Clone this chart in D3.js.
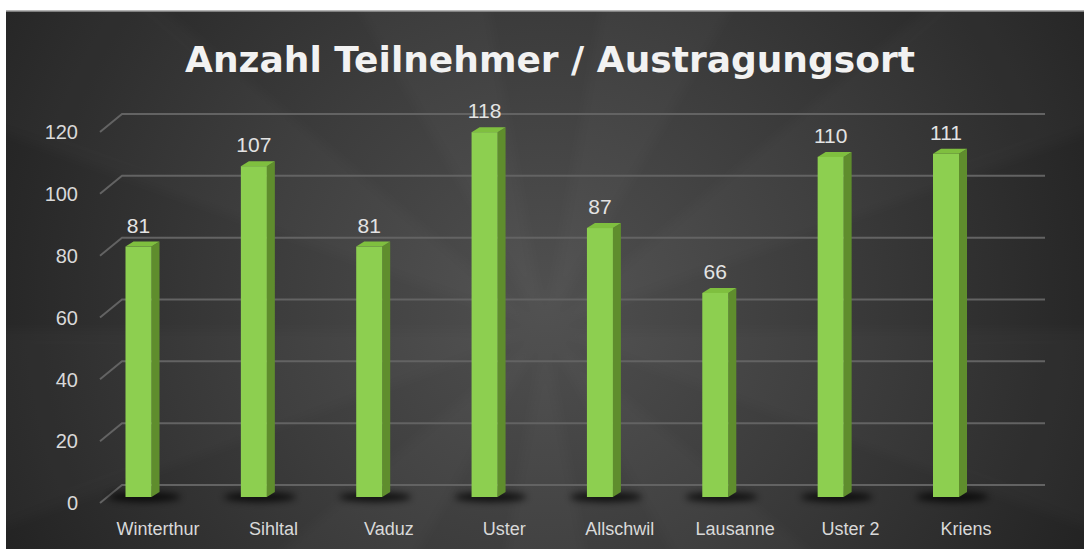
<!DOCTYPE html>
<html>
<head>
<meta charset="utf-8">
<script src="https://cdn.jsdelivr.net/npm/d3@7"></script>
<style>
  html, body { margin: 0; padding: 0; background: #fff; }
  svg { display: block; }
</style>
</head>
<body>
<svg id="chart"></svg>
<script>
const categories = ["Winterthur", "Sihltal", "Vaduz", "Uster", "Allschwil", "Lausanne", "Uster 2", "Kriens"];
const values = [81, 107, 81, 118, 87, 66, 110, 111];
const yTicks = [0, 20, 40, 60, 80, 100, 120];
const title = "Anzahl Teilnehmer / Austragungsort";

const width = 1084, height = 549;

const svg = d3.select("#chart")
    .attr("width", width)
    .attr("height", height);

const defs = svg.append("defs");

// background gradient
const grad = defs.append("radialGradient")
    .attr("id", "bg")
    .attr("gradientUnits", "userSpaceOnUse")
    .attr("cx", 545).attr("cy", 300).attr("r", 620);
grad.append("stop").attr("offset", "0%").attr("stop-color", "#505050");
grad.append("stop").attr("offset", "45%").attr("stop-color", "#3c3c3c");
grad.append("stop").attr("offset", "100%").attr("stop-color", "#212121");

const blur = defs.append("filter").attr("id", "shadow")
    .attr("x", "-50%").attr("y", "-200%").attr("width", "200%").attr("height", "500%");
blur.append("feGaussianBlur").attr("stdDeviation", 3.5);

const soft = defs.append("filter").attr("id", "soft");
soft.append("feGaussianBlur").attr("stdDeviation", 6);

// panel
svg.append("rect")
    .attr("x", 6).attr("y", 11)
    .attr("width", width - 6).attr("height", height - 11)
    .attr("fill", "url(#bg)");
svg.append("line")
    .attr("x1", 6).attr("x2", width).attr("y1", 11).attr("y2", 11)
    .attr("stroke", "#9a9a9a").attr("stroke-width", 1.5);

// very faint rays
const clip = defs.append("clipPath").attr("id", "panel");
clip.append("rect").attr("x", 6).attr("y", 11).attr("width", width - 6).attr("height", height - 11);
const rays = svg.append("g").attr("clip-path", "url(#panel)")
    .append("g").attr("opacity", 0.018).attr("filter", "url(#soft)");
const rayCount = 18;
for (let i = 0; i < rayCount; i += 2) {
    const a0 = (i / rayCount) * 2 * Math.PI, a1 = ((i + 1) / rayCount) * 2 * Math.PI;
    const cx = 545, cy = 330, R = 1000;
    rays.append("path")
        .attr("d", `M${cx},${cy}L${cx + R * Math.cos(a0)},${cy + R * Math.sin(a0)}L${cx + R * Math.cos(a1)},${cy + R * Math.sin(a1)}Z`)
        .attr("fill", "#fff");
}

// scales
const y = d3.scaleLinear().domain([0, 120]).range([485, 114]);   // back wall
const x = d3.scalePoint().domain(categories).range([138.5, 946]); // bar fronts
const xLabel = d3.scalePoint().domain(categories).range([158, 966]);

const floorDx = -22, floorDy = 18;   // depth of the floor
const barDrop = 12;                   // bar front sits this far below the wall
const barW = 26, depthX = 8, depthY = 5;

// gridlines with the floor diagonal
const grid = svg.append("g");
grid.selectAll("path")
    .data(yTicks)
    .join("path")
    .attr("d", d => `M${122 + floorDx},${y(d) + floorDy}L122,${y(d)}L1045,${y(d)}`)
    .attr("fill", "none")
    .attr("stroke", "#636363")
    .attr("stroke-width", 2);

grid.selectAll("text")
    .data(yTicks)
    .join("text")
    .attr("x", 78)
    .attr("y", d => y(d) + floorDy)
    .attr("dy", "0.36em")
    .attr("text-anchor", "end")
    .attr("font-family", "Liberation Sans, Arial, sans-serif")
    .attr("font-size", 20)
    .attr("fill", "#d9d9d9")
    .text(d => d);

// title
svg.append("text")
    .attr("x", 550)
    .attr("y", 72)
    .attr("text-anchor", "middle")
    .attr("font-family", "DejaVu Sans, sans-serif")
    .attr("font-weight", "bold")
    .attr("font-size", 36)
    .attr("fill", "#f2f2f2")
    .text(title);

const data = categories.map((c, i) => ({ c, v: values[i] }));

// shadows
svg.append("g").selectAll("ellipse")
    .data(data)
    .join("ellipse")
    .attr("cx", d => x(d.c) + 6)
    .attr("cy", y(0) + barDrop)
    .attr("rx", 36)
    .attr("ry", 5)
    .attr("fill", "#000")
    .attr("opacity", 0.75)
    .attr("filter", "url(#shadow)");

const bars = svg.append("g").selectAll("g")
    .data(data)
    .join("g");

// side face
bars.append("path")
    .attr("d", d => {
        const r = x(d.c) + barW / 2, t = y(d.v) + barDrop, b = y(0) + barDrop;
        return `M${r},${t}L${r + depthX},${t - depthY}L${r + depthX},${b - depthY}L${r},${b}Z`;
    })
    .attr("fill", "#5f8d2d");

// top face
bars.append("path")
    .attr("d", d => {
        const l = x(d.c) - barW / 2, r = x(d.c) + barW / 2, t = y(d.v) + barDrop;
        return `M${l},${t}L${l + depthX},${t - depthY}L${r + depthX},${t - depthY}L${r},${t}Z`;
    })
    .attr("fill", "#7fbf3f");

// front face
bars.append("rect")
    .attr("x", d => x(d.c) - barW / 2)
    .attr("y", d => y(d.v) + barDrop)
    .attr("width", barW)
    .attr("height", d => y(0) - y(d.v))
    .attr("fill", "#8dcf50");

// value labels
bars.append("text")
    .attr("x", d => x(d.c))
    .attr("y", d => y(d.v) + barDrop - depthY - 9)
    .attr("text-anchor", "middle")
    .attr("font-family", "Liberation Sans, Arial, sans-serif")
    .attr("font-size", 21)
    .attr("fill", "#e3e3e3")
    .text(d => d.v);

// category labels
svg.append("g").selectAll("text")
    .data(categories)
    .join("text")
    .attr("x", d => xLabel(d))
    .attr("y", 535)
    .attr("text-anchor", "middle")
    .attr("font-family", "Liberation Sans, Arial, sans-serif")
    .attr("font-size", 18)
    .attr("fill", "#d9d9d9")
    .text(d => d);
</script>
</body>
</html>
